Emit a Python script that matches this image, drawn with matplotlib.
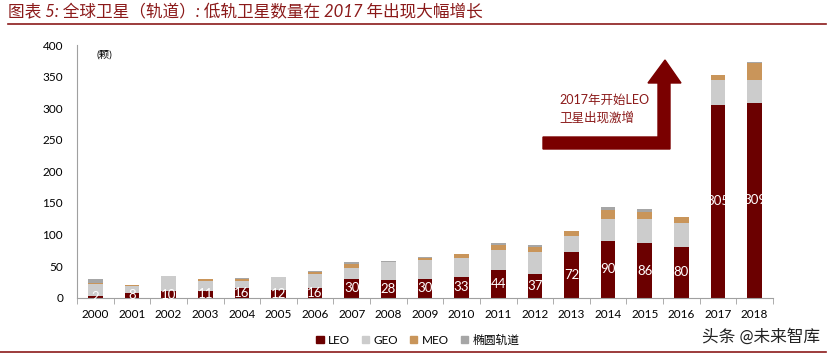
import matplotlib

matplotlib.use("Agg")
import matplotlib.pyplot as plt
import numpy as np
from matplotlib.patches import Polygon
from matplotlib.lines import Line2D

plt.rcParams["font.family"] = ["Lato", "Noto Sans CJK SC", "DejaVu Sans"]

years = [str(y) for y in range(2000, 2019)]
leo = [2, 8, 10, 11, 16, 12, 16, 30, 28, 30, 33, 44, 37, 72, 90, 86, 80, 305, 309]
geo = [19, 11, 24, 16, 11, 21, 21, 17, 29, 30, 30, 31, 36, 26, 34, 38, 38, 39, 35]
meo = [2, 1, 0, 3, 3, 0, 4, 6, 0, 3, 6, 8, 7, 7, 15, 12, 10, 8, 27]
ellip = [7, 0, 0, 0, 1, 0, 1, 4, 1, 1, 0, 3, 3, 1, 4, 4, 0, 1, 2]
series_names = ["LEO", "GEO", "MEO", "椭圆轨道"]
colors = ["#6b0000", "#cccccc", "#c9955a", "#a6a6a6"]

DARK_RED = "#8b1a1a"

fig = plt.figure(figsize=(8.32, 3.55), dpi=100)
ax = fig.add_axes([0.0926, 0.1614, 0.8364, 0.7116])

x = np.arange(len(years))
w = 0.4
bottom = np.zeros(len(years))
for vals, c in zip([leo, geo, meo, ellip], colors):
    ax.bar(x, vals, w, bottom=bottom, color=c, edgecolor="none", zorder=2)
    bottom += np.array(vals)

for xi, v in zip(x, leo):
    ax.text(xi, v / 2, str(v), ha="center", va="center", color="white",
            fontsize=9.5, zorder=3)

ax.set_xlim(-0.5, len(years) - 0.5)
ax.set_ylim(0, 400)
ax.set_yticks(range(0, 401, 50))
ax.set_xticks(x)
ax.set_xticklabels(years)
ax.set_xticks(np.arange(-0.5, len(years), 1), minor=True)
ax.tick_params(axis="x", which="major", length=0, pad=8, labelsize=8.5)
ax.tick_params(axis="x", which="minor", length=4, color="#a0a0a0", direction="out")
ax.tick_params(axis="y", length=0, pad=10, labelsize=8.5)
for s in ["top", "right"]:
    ax.spines[s].set_visible(False)
for s in ["left", "bottom"]:
    ax.spines[s].set_color("#a0a0a0")
    ax.spines[s].set_linewidth(0.8)

ax.text(0.02, 392, "(颗)", fontsize=7.5, ha="left", va="top")

# bent arrow (figure pixel coords)
H = 355.0
W = 832.0
pts = [(543, 137), (658, 137), (658, 83), (648, 83), (665, 60), (681, 83),
       (670, 83), (670, 149), (543, 149)]
arrow = Polygon([(px / W, 1 - py / H) for px, py in pts], closed=True,
                transform=fig.transFigure, color="#7a0000", zorder=5)
fig.patches.append(arrow)
fig.text(559 / W, 1 - 100 / H, "2017年开始LEO", color=DARK_RED, fontsize=9,
         ha="left", va="center")
fig.text(559 / W, 1 - 117 / H, "卫星出现激增", color=DARK_RED, fontsize=9,
         ha="left", va="center")

# title and rules
fig.text(8 / W, 1 - 12 / H, "图表 5: 全球卫星（轨道）: 低轨卫星数量在 2017 年出现大幅增长",
         color=DARK_RED, fontsize=12, ha="left", va="center", style="italic")
fig.add_artist(Line2D([8 / W, 826 / W], [1 - 24 / H, 1 - 24 / H],
                      color=DARK_RED, lw=1.2, transform=fig.transFigure))
fig.add_artist(Line2D([0, 826 / W], [1 - 352 / H, 1 - 352 / H],
                      color=DARK_RED, lw=1.2, transform=fig.transFigure))

handles = [plt.Rectangle((0, 0), 1, 1, color=c) for c in colors]
fig.legend(handles, series_names, loc="center", bbox_to_anchor=(418 / W, 1 - 340 / H),
           ncol=4, frameon=False, fontsize=8.5, handlelength=0.6, handleheight=0.6,
           handletextpad=0.4, columnspacing=1.0)

fig.text(820 / W, 1 - 336 / H, "头条 @未来智库", fontsize=12, color="#222222",
         ha="right", va="center")

fig.savefig("out.png", dpi=100)
